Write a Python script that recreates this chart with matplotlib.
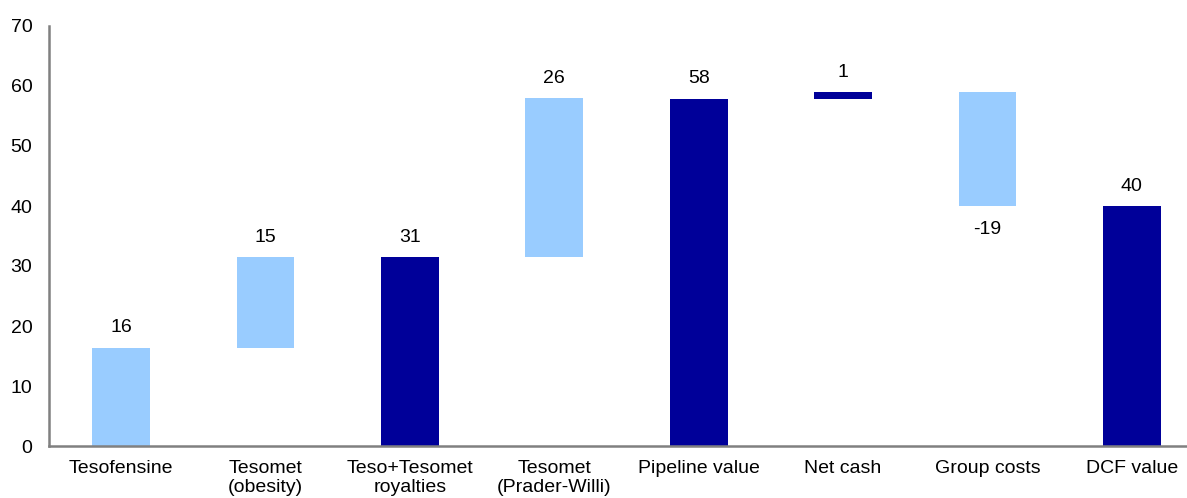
import numpy as np
import matplotlib.pyplot as plt

plt.rcParams["font.family"] = ["Liberation Sans", "DejaVu Sans"]

# waterfall data
categories = ["Tesofensine", "Tesomet\n(obesity)", "Teso+Tesomet\nroyalties",
              "Tesomet\n(Prader-Willi)", "Pipeline value", "Net cash",
              "Group costs", "DCF value"]
bottoms = [0, 16.4, 0, 31.5, 0, 57.9, 40.0, 0]
heights = [16.4, 15.1, 31.5, 26.5, 57.9, 1.1, 19.0, 40.0]
labels = ["16", "15", "31", "26", "58", "1", "-19", "40"]
is_total = [False, False, True, False, True, True, False, True]
is_negative = [False, False, False, False, False, False, True, False]

light = "#99CCFF"
dark = "#000099"

fig = plt.figure(figsize=(11.87, 4.98), dpi=100)
# axes runs a bit past the right edge, like the cropped original
ax = fig.add_axes([49 / 1187, 52 / 498, 1155 / 1187, 420 / 498])

x = np.arange(len(categories))
colors = [dark if t else light for t in is_total]
ax.bar(x, heights, bottom=bottoms, width=0.4, color=colors)

fs = 14
for i in range(len(x)):
    if is_negative[i]:
        ax.annotate(labels[i], (x[i], bottoms[i]), xytext=(0, -11),
                    textcoords="offset points", ha="center", va="top", fontsize=fs)
    else:
        ax.annotate(labels[i], (x[i], bottoms[i] + heights[i]), xytext=(0, 8),
                    textcoords="offset points", ha="center", va="bottom", fontsize=fs)

ax.set_xlim(-0.5, 7.5)
ax.set_ylim(0, 70)
ax.set_yticks(range(0, 71, 10))
ax.set_xticks(x)
ax.set_xticklabels(categories, fontsize=fs, linespacing=1.15)
ax.tick_params(axis="both", length=0, labelsize=fs)
ax.tick_params(axis="x", pad=10)
ax.tick_params(axis="y", pad=12)

for s in ["top", "right"]:
    ax.spines[s].set_visible(False)
for s in ["left", "bottom"]:
    ax.spines[s].set_color("#808080")
    ax.spines[s].set_linewidth(1.8)

fig.savefig("out.png", dpi=100)
